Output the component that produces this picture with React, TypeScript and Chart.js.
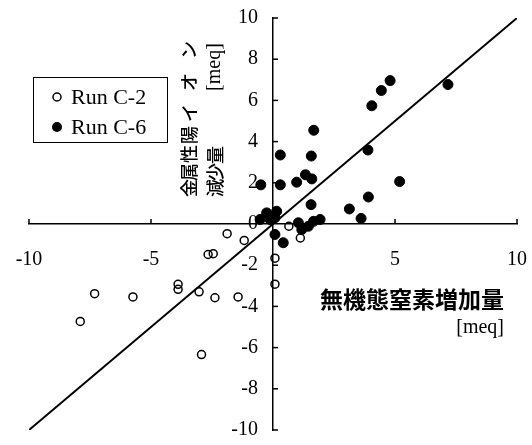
import { useEffect, useRef } from 'react';
import { Chart, registerables } from 'chart.js';

Chart.register(...registerables);

// Run C-2 (open circles)
const C2_X = [-7.9, -7.31, -5.74, -3.89, -3.89, -3.03, -2.38, -1.43, -2.93, -2.66, -2.45, -1.88, -1.18, 0.08, 0.08, 0.65, 1.12];
const C2_Y = [-4.73, -3.38, -3.54, -2.93, -3.17, -3.29, -3.58, -3.54, -6.34, -1.48, -1.44, -0.47, -0.8, -1.66, -2.92, -0.11, -0.68];

// Run C-6 (filled circles)
const C6_X = [7.17, 4.8, 4.44, 4.05, 1.67, 0.3, 1.57, 3.89, 0.3, 0.97, 1.33, 1.59, 5.19, 3.91, 1.56, 3.13, 0.15, -0.26, 0.08, -0.12, -0.53, -0.5, 1.04, 1.18, 1.45, 1.66, 1.93, 3.61, 0.08, 0.42];
const C6_Y = [6.77, 6.96, 6.48, 5.74, 4.55, 3.35, 3.3, 3.59, 1.9, 2.03, 2.39, 2.19, 2.06, 1.31, 0.94, 0.73, 0.62, 0.54, 0.3, 0.22, 0.22, 1.9, 0.06, -0.27, -0.11, 0.13, 0.22, 0.27, -0.51, -0.91];

// 1:1 line
const FIT_X = [-10, 10];
const FIT_Y = [-10, 10];

const X_TICKS = [-10, -5, 5, 10];
const Y_TICKS = [10, 8, 6, 4, 2, 0, -2, -4, -6, -8, -10];

const SERIES_NAMES = ['Run C-2', 'Run C-6'];
const X_TITLE = '無機態窒素増加量';
const Y_TITLE_LINE1 = ['金', '属', '性', '陽', 'イ', 'オ', 'ン'];
const Y_TITLE_LINE2 = ['減', '少', '量'];
const UNIT = '[meq]';

const SERIF = "'Liberation Serif', 'Times New Roman', serif";
const CJK = "'Noto Sans CJK JP', sans-serif";

const toPts = (xs: number[], ys: number[]) => xs.map((x, i) => ({ x, y: ys[i] }));

const zeroPad = (s: any) => {
  s.paddingLeft = 0;
  s.paddingRight = 0;
  s.paddingTop = 0;
  s.paddingBottom = 0;
};

const decorPlugin = {
  id: 'decor',
  afterDraw(chart: any) {
    const { ctx, scales } = chart;
    const xs = scales.x;
    const ys = scales.y;
    const x0 = xs.getPixelForValue(0);
    const y0 = ys.getPixelForValue(0);
    ctx.save();
    ctx.strokeStyle = '#000';
    ctx.lineWidth = 1.5;
    for (const v of X_TICKS) {
      const px = xs.getPixelForValue(v);
      ctx.beginPath();
      ctx.moveTo(px, y0);
      ctx.lineTo(px, y0 - 5);
      ctx.stroke();
    }
    ctx.fillStyle = '#000';
    ctx.font = `20px ${SERIF}`;
    ctx.textAlign = 'right';
    ctx.textBaseline = 'middle';
    for (const t of ys.ticks) {
      const v = t.value;
      if (!Y_TICKS.includes(v)) continue;
      const py = ys.getPixelForValue(v);
      if (v !== 0) {
        ctx.beginPath();
        ctx.moveTo(x0, py);
        ctx.lineTo(x0 + 5, py);
        ctx.stroke();
      }
      ctx.fillText(String(v), x0 - 15, py);
    }

    // x title
    ctx.font = `bold 23px ${CJK}`;
    ctx.textAlign = 'right';
    ctx.textBaseline = 'middle';
    ctx.fillText(X_TITLE, 504, 299);
    ctx.font = `20px ${SERIF}`;
    ctx.fillText(UNIT, 504, 328);

    // y title (rotated)
    const line1Centers = [188, 172, 154, 135, 113, 82, 50];
    const line2Centers = [188, 172, 155];
    ctx.font = `500 18px ${CJK}`;
    ctx.textAlign = 'center';
    ctx.textBaseline = 'middle';
    Y_TITLE_LINE1.forEach((ch, i) => {
      ctx.save();
      ctx.translate(189, line1Centers[i]);
      ctx.rotate(-Math.PI / 2);
      ctx.fillText(ch, 0, 0);
      ctx.restore();
    });
    Y_TITLE_LINE2.forEach((ch, i) => {
      ctx.save();
      ctx.translate(215, line2Centers[i]);
      ctx.rotate(-Math.PI / 2);
      ctx.fillText(ch, 0, 0);
      ctx.restore();
    });
    ctx.save();
    ctx.translate(215, 67);
    ctx.rotate(-Math.PI / 2);
    ctx.font = `20px ${SERIF}`;
    ctx.fillText(UNIT, 0, 0);
    ctx.restore();

    // legend
    ctx.lineWidth = 1;
    ctx.strokeRect(33.5, 77.5, 134, 65);
    const rows = [97, 127];
    chart.data.datasets.slice(1).forEach((ds: any, i: number) => {
      const cy = rows[i];
      ctx.beginPath();
      ctx.arc(57, cy, i === 0 ? 4 : 5, 0, Math.PI * 2);
      if (i === 0) {
        ctx.lineWidth = 1.5;
        ctx.stroke();
      } else {
        ctx.fill();
      }
      ctx.font = `22px ${SERIF}`;
      ctx.textAlign = 'left';
      ctx.textBaseline = 'middle';
      ctx.fillText(ds.label, 71, cy + 1);
    });
    ctx.restore();
  },
};

export default function App() {
  const ref = useRef<HTMLCanvasElement>(null);
  useEffect(() => {
    if (!ref.current) return;
    const chart = new Chart(ref.current, {
      type: 'scatter',
      data: {
        datasets: [
          {
            type: 'line',
            label: 'fit',
            data: toPts(FIT_X, FIT_Y),
            borderColor: '#000',
            borderWidth: 2,
            pointRadius: 0,
            fill: false,
          } as any,
          {
            label: SERIES_NAMES[0],
            data: toPts(C2_X, C2_Y),
            pointRadius: 4,
            pointBorderWidth: 1.5,
            borderColor: '#000',
            backgroundColor: 'rgba(0,0,0,0)',
          },
          {
            label: SERIES_NAMES[1],
            data: toPts(C6_X, C6_Y),
            pointRadius: 5,
            pointBorderWidth: 1,
            borderColor: '#000',
            backgroundColor: '#000',
          },
        ],
      },
      options: {
        responsive: false,
        animation: false,
        events: [],
        layout: { padding: { left: 29, right: 15, top: 18, bottom: 15 } },
        plugins: { legend: { display: false }, tooltip: { enabled: false } },
        scales: {
          x: {
            type: 'linear',
            position: { y: 0 } as any,
            min: -10,
            max: 10,
            grid: { display: false, drawTicks: false },
            border: { display: true, color: '#000', width: 1.5 },
            afterFit: zeroPad,
            ticks: {
              stepSize: 5,
              padding: 24,
              color: '#000',
              font: { family: SERIF, size: 20 },
              maxRotation: 0,
              callback: (v: any) => (X_TICKS.includes(Number(v)) ? String(v) : ''),
            },
          },
          y: {
            type: 'linear',
            position: { x: 0 } as any,
            min: -10,
            max: 10,
            grid: { display: false, drawTicks: false },
            border: { display: true, color: '#000', width: 1.5 },
            afterFit: zeroPad,
            ticks: {
              stepSize: 2,
              display: false,
            },
          },
        },
      },
      plugins: [decorPlugin],
    });
    return () => chart.destroy();
  }, []);
  return (
    <div style={{ position: 'fixed', left: 0, top: 0, width: 532, height: 445, background: '#fff' }}>
      <canvas ref={ref} width={532} height={445} />
    </div>
  );
}
